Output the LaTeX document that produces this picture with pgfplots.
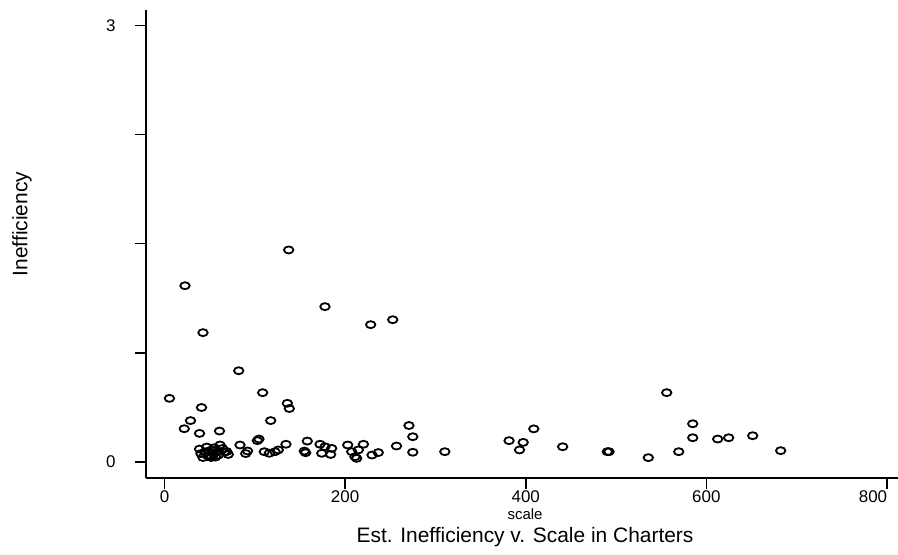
\documentclass[border=0pt]{standalone}
\usepackage{fontspec}
\setmainfont{Liberation Sans}
\usepackage{pgfplots}
\pgfplotsset{compat=1.18}

\pgfplotstableread{
x y
137.5 1.457
22.7 1.211
177.7 1.067
252.7 0.977
228.3 0.943
42.6 0.888
82.2 0.626
108.7 0.475
556.1 0.475
5.5 0.436
136.0 0.402
138.2 0.366
41.0 0.373
117.6 0.283
28.8 0.283
21.9 0.227
38.8 0.195
60.9 0.211
270.7 0.249
274.9 0.172
274.9 0.065
584.9 0.261
584.9 0.165
408.9 0.226
381.5 0.145
397.2 0.133
393.1 0.081
310.4 0.069
440.9 0.103
492.2 0.069
490.3 0.069
535.7 0.028
569.4 0.069
612.5 0.156
624.7 0.165
651.3 0.179
682.3 0.076
256.9 0.108
229.8 0.046
236.7 0.063
202.9 0.115
207.3 0.069
210.9 0.034
214.6 0.081
220.3 0.120
212.8 0.023
172.2 0.120
174.1 0.058
177.7 0.103
185.1 0.092
184.0 0.050
158.1 0.142
154.8 0.073
156.3 0.062
134.5 0.120
122.4 0.069
126.0 0.081
110.5 0.069
116.0 0.058
102.8 0.145
104.6 0.156
83.6 0.115
89.9 0.056
91.9 0.074
38.8 0.087
40.4 0.056
42.6 0.029
44.8 0.067
47.6 0.043
49.3 0.074
51.5 0.029
52.6 0.081
54.3 0.053
56.5 0.032
58.1 0.067
59.8 0.046
61.5 0.115
64.2 0.091
66.4 0.067
68.9 0.070
70.6 0.050
46.7 0.101
50.4 0.039
55.1 0.096
}\charters

\begin{document}
\begin{tikzpicture}[x=1bp,y=1bp]
\path[use as bounding box] (0,0) rectangle (898,555);
\begin{axis}[
  at={(146bp,77bp)}, anchor=south west,
  scale only axis, width=752bp, height=468bp,
  xmin=-20.48, xmax=812.2, ymin=-0.112, ymax=3.108,
  axis x line*=bottom, axis y line*=left,
  axis line style={line width=1.6bp, black},
  xtick={0,200,400,600},
  extra x ticks={800},
  extra x tick style={xticklabel style={xshift=-14bp}},
  ytick={0,0.75,1.5,2.25,3}, yticklabels={0,,,,3},
  tick align=outside, major tick length=11bp,
  tick style={line width=1.6bp, black},
  /pgf/number format/assume math mode=true,
  tick label style={font=\fontsize{17}{17}\selectfont},
  yticklabel style={xshift=-16bp},
  xticklabel style={yshift=2bp},
  clip=false,
]
\addplot[only marks, mark=o, mark size=3.5bp,
  mark options={xscale=1.35, line width=1.8bp, black}] table[x=x, y=y] {\charters};
\end{axis}
\node[rotate=90, font=\fontsize{21}{21}\selectfont] at (22,331) {Inefficiency};
\node[font=\fontsize{15}{15}\selectfont] at (525,41) {scale};
\node[font=\fontsize{21}{21}\selectfont] at (525,18) {Est. Inefficiency v. Scale in Charters};
\end{tikzpicture}
\end{document}
